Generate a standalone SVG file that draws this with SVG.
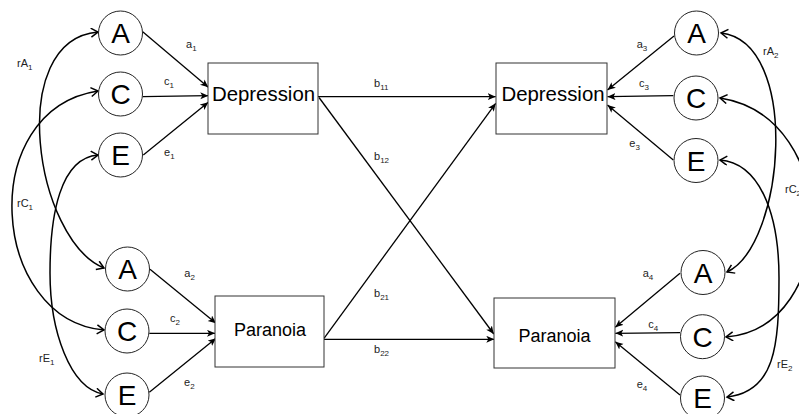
<svg xmlns="http://www.w3.org/2000/svg" width="799" height="414" viewBox="0 0 799 414">
<style>
.c{fill:#fff;stroke:#222;stroke-width:1}
.b{fill:#fff;stroke:#333;stroke-width:1}
.lt{font-family:"Liberation Sans",Arial,sans-serif;font-size:28px;fill:#000;text-anchor:middle}
.bt{font-family:"Liberation Sans",Arial,sans-serif;fill:#000;text-anchor:middle}
.lab{font-family:"Liberation Sans",Arial,sans-serif;font-size:11px;fill:#222}
.s{font-size:8px}
.e{fill:none;stroke:#000;stroke-width:1.3;marker-end:url(#ah)}
.r{fill:none;stroke:#000;stroke-width:1.5;marker-start:url(#oa);marker-end:url(#oa)}
</style>
<defs>
<marker id="ah" markerUnits="userSpaceOnUse" markerWidth="10" markerHeight="8" refX="8" refY="3.5" orient="auto">
<path d="M0,0 L8,3.5 L0,7 L2,3.5 z" fill="#000"/>
</marker>
<marker id="oa" markerUnits="userSpaceOnUse" markerWidth="12" markerHeight="12" refX="8" refY="5" orient="auto-start-reverse">
<path d="M1,0.5 L8,5 L1,9.5" fill="none" stroke="#000" stroke-width="1.5"/>
</marker>
</defs>
<g id="connectors">
<path class="e" d="M142.7,31.7 L208.3,87.3"/>
<path class="e" d="M142.7,96.7 L208.3,95.7"/>
<path class="e" d="M143.3,155 L208.3,102.3"/>
<path class="e" d="M150,269.3 L216,323.3"/>
<path class="e" d="M149.3,333.3 L215,333.3"/>
<path class="e" d="M149.3,392.3 L216,338.3"/>
<path class="e" d="M318,96.7 L495.7,96.7"/>
<path class="e" d="M319,97.5 L493.8,334"/>
<path class="e" d="M324,338.3 L495.7,103.3"/>
<path class="e" d="M324,339.3 L494.3,339.3"/>
<path class="e" d="M674,36 L607.5,90"/>
<path class="e" d="M673.3,95.7 L607.5,96.7"/>
<path class="e" d="M673.3,160 L607.5,105"/>
<path class="e" d="M680,273.3 L615.3,327.3"/>
<path class="e" d="M680,332.7 L615.3,333.3"/>
<path class="e" d="M680,395 L615.3,341.7"/>
<path class="r" d="M98,32 C5,40 35,240 104,268"/>
<path class="r" d="M98,91 C-25,110 -10,320 104,330"/>
<path class="r" d="M98,155 C60,158 50,215 50,273 S70,388 103,394"/>
<path class="r" d="M721,33 C801,42 785,245 727,272"/>
<path class="r" d="M720,98 C843,117 840,328 726,337"/>
<path class="r" d="M720,160 C758,163 779,210 779,278 S775,392 727,397"/>
</g>
<g id="labels">
<text class="lab" x="186" y="48">a<tspan class="s" dy="3">1</tspan></text>
<text class="lab" x="164" y="85">c<tspan class="s" dy="3">1</tspan></text>
<text class="lab" x="164" y="155.7">e<tspan class="s" dy="3">1</tspan></text>
<text class="lab" x="184.3" y="276.7">a<tspan class="s" dy="3">2</tspan></text>
<text class="lab" x="170" y="322.3">c<tspan class="s" dy="3">2</tspan></text>
<text class="lab" x="184" y="385.7">e<tspan class="s" dy="3">2</tspan></text>
<text class="lab" x="374" y="87.3">b<tspan class="s" dy="3">11</tspan></text>
<text class="lab" x="374" y="160">b<tspan class="s" dy="3">12</tspan></text>
<text class="lab" x="374" y="297.3">b<tspan class="s" dy="3">21</tspan></text>
<text class="lab" x="374" y="353.3">b<tspan class="s" dy="3">22</tspan></text>
<text class="lab" x="636.7" y="48.3">a<tspan class="s" dy="3">3</tspan></text>
<text class="lab" x="639" y="87.3">c<tspan class="s" dy="3">3</tspan></text>
<text class="lab" x="629.3" y="146.7">e<tspan class="s" dy="3">3</tspan></text>
<text class="lab" x="642.7" y="276.7">a<tspan class="s" dy="3">4</tspan></text>
<text class="lab" x="648.3" y="328.3">c<tspan class="s" dy="3">4</tspan></text>
<text class="lab" x="636.7" y="388.3">e<tspan class="s" dy="3">4</tspan></text>
<text class="lab" x="17" y="67">rA<tspan class="s" dy="3">1</tspan></text>
<text class="lab" x="17" y="207">rC<tspan class="s" dy="3">1</tspan></text>
<text class="lab" x="39" y="362">rE<tspan class="s" dy="3">1</tspan></text>
<text class="lab" x="763" y="55">rA<tspan class="s" dy="3">2</tspan></text>
<text class="lab" x="785" y="193">rC<tspan class="s" dy="3">2</tspan></text>
<text class="lab" x="777" y="368">rE<tspan class="s" dy="3">2</tspan></text>
</g>
<g id="dep1"><rect class="b" x="208" y="63" width="110" height="71"/><text class="bt" x="263.5" y="100.7" font-size="20.4">Depression</text></g>
<g id="par1"><rect class="b" x="215" y="296" width="109" height="71"/><text class="bt" x="270" y="336" font-size="18">Paranoia</text></g>
<g id="dep2"><rect class="b" x="496" y="63" width="111" height="71"/><text class="bt" x="553" y="101" font-size="20.4">Depression</text></g>
<g id="par2"><rect class="b" x="494" y="298" width="121" height="70"/><text class="bt" x="554.5" y="341.7" font-size="18">Paranoia</text></g>
<g id="A1"><circle class="c" cx="120.5" cy="33" r="22"/><text class="lt" x="120.5" y="43">A</text></g>
<g id="C1"><circle class="c" cx="120.5" cy="94" r="22"/><text class="lt" x="120.5" y="104">C</text></g>
<g id="E1"><circle class="c" cx="120.5" cy="155" r="22"/><text class="lt" x="120.5" y="165">E</text></g>
<g id="A2"><circle class="c" cx="127.5" cy="269" r="22"/><text class="lt" x="127.5" y="279">A</text></g>
<g id="C2"><circle class="c" cx="127" cy="331" r="22"/><text class="lt" x="127" y="341">C</text></g>
<g id="E2"><circle class="c" cx="127" cy="395" r="22"/><text class="lt" x="127" y="405">E</text></g>
<g id="A3"><circle class="c" cx="696.5" cy="33" r="22"/><text class="lt" x="696.5" y="43">A</text></g>
<g id="C3"><circle class="c" cx="696" cy="98" r="22"/><text class="lt" x="696" y="108">C</text></g>
<g id="E3"><circle class="c" cx="696" cy="160.5" r="22"/><text class="lt" x="696" y="170.5">E</text></g>
<g id="A4"><circle class="c" cx="703" cy="272.5" r="22"/><text class="lt" x="703" y="282.5">A</text></g>
<g id="C4"><circle class="c" cx="702.5" cy="336.7" r="22"/><text class="lt" x="702.5" y="346.7">C</text></g>
<g id="E4"><circle class="c" cx="702.5" cy="398" r="22"/><text class="lt" x="702.5" y="408">E</text></g>
</svg>
